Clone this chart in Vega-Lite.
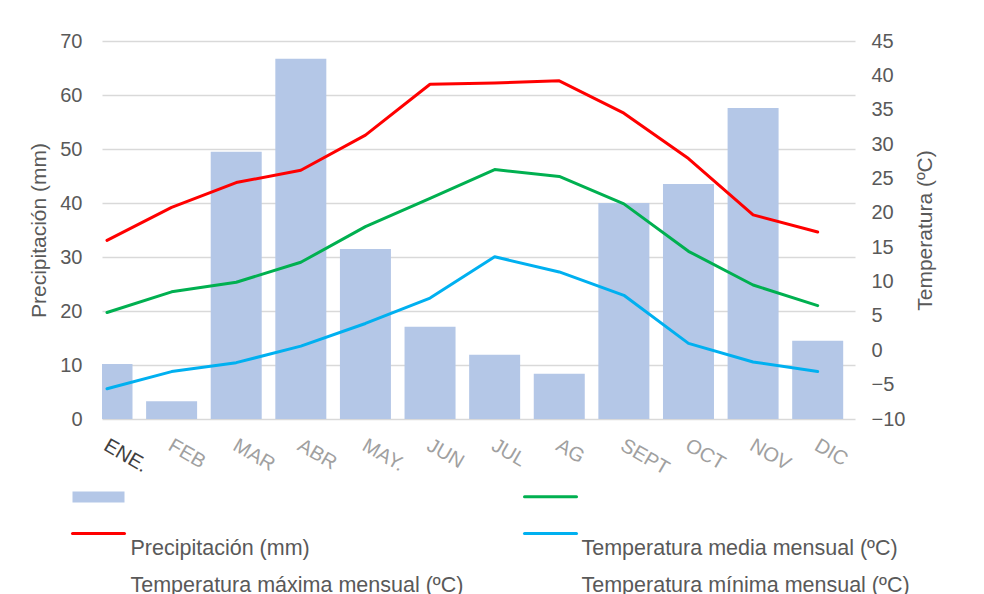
{
  "$schema": "https://vega.github.io/schema/vega-lite/v6.json",
  "width": 753,
  "height": 378,
  "autosize": {"type": "none"},
  "padding": {"left": 102, "top": 41, "right": 129, "bottom": 175},
  "config": {
    "font": "Liberation Sans",
    "view": {"stroke": null},
    "axis": {"labelColor": "#595959", "titleColor": "#595959", "titleFontWeight": "normal", "labelFontSize": 20, "titleFontSize": 21}
  },
  "data": {
    "values": [
      {"n": 1, "mes": "ENE.", "serie": "Precipitación (mm)", "valor": 10.2},
      {"n": 2, "mes": "FEB", "serie": "Precipitación (mm)", "valor": 3.3},
      {"n": 3, "mes": "MAR", "serie": "Precipitación (mm)", "valor": 49.5},
      {"n": 4, "mes": "ABR", "serie": "Precipitación (mm)", "valor": 66.7},
      {"n": 5, "mes": "MAY.", "serie": "Precipitación (mm)", "valor": 31.5},
      {"n": 6, "mes": "JUN", "serie": "Precipitación (mm)", "valor": 17.1},
      {"n": 7, "mes": "JUL", "serie": "Precipitación (mm)", "valor": 11.9},
      {"n": 8, "mes": "AG", "serie": "Precipitación (mm)", "valor": 8.4},
      {"n": 9, "mes": "SEPT", "serie": "Precipitación (mm)", "valor": 40.0},
      {"n": 10, "mes": "OCT", "serie": "Precipitación (mm)", "valor": 43.5},
      {"n": 11, "mes": "NOV", "serie": "Precipitación (mm)", "valor": 57.6},
      {"n": 12, "mes": "DIC", "serie": "Precipitación (mm)", "valor": 14.5},
      {"n": 1, "mes": "ENE.", "serie": "Temperatura media mensual (ºC)", "valor": 5.5},
      {"n": 2, "mes": "FEB", "serie": "Temperatura media mensual (ºC)", "valor": 8.5},
      {"n": 3, "mes": "MAR", "serie": "Temperatura media mensual (ºC)", "valor": 9.9},
      {"n": 4, "mes": "ABR", "serie": "Temperatura media mensual (ºC)", "valor": 12.8},
      {"n": 5, "mes": "MAY.", "serie": "Temperatura media mensual (ºC)", "valor": 18.0},
      {"n": 6, "mes": "JUN", "serie": "Temperatura media mensual (ºC)", "valor": 22.1},
      {"n": 7, "mes": "JUL", "serie": "Temperatura media mensual (ºC)", "valor": 26.3},
      {"n": 8, "mes": "AG", "serie": "Temperatura media mensual (ºC)", "valor": 25.3},
      {"n": 9, "mes": "SEPT", "serie": "Temperatura media mensual (ºC)", "valor": 21.3},
      {"n": 10, "mes": "OCT", "serie": "Temperatura media mensual (ºC)", "valor": 14.4},
      {"n": 11, "mes": "NOV", "serie": "Temperatura media mensual (ºC)", "valor": 9.5},
      {"n": 12, "mes": "DIC", "serie": "Temperatura media mensual (ºC)", "valor": 6.5},
      {"n": 1, "mes": "ENE.", "serie": "Temperatura máxima mensual (ºC)", "valor": 16.0},
      {"n": 2, "mes": "FEB", "serie": "Temperatura máxima mensual (ºC)", "valor": 20.8},
      {"n": 3, "mes": "MAR", "serie": "Temperatura máxima mensual (ºC)", "valor": 24.4},
      {"n": 4, "mes": "ABR", "serie": "Temperatura máxima mensual (ºC)", "valor": 26.2},
      {"n": 5, "mes": "MAY.", "serie": "Temperatura máxima mensual (ºC)", "valor": 31.3},
      {"n": 6, "mes": "JUN", "serie": "Temperatura máxima mensual (ºC)", "valor": 38.7},
      {"n": 7, "mes": "JUL", "serie": "Temperatura máxima mensual (ºC)", "valor": 38.9},
      {"n": 8, "mes": "AG", "serie": "Temperatura máxima mensual (ºC)", "valor": 39.2},
      {"n": 9, "mes": "SEPT", "serie": "Temperatura máxima mensual (ºC)", "valor": 34.5},
      {"n": 10, "mes": "OCT", "serie": "Temperatura máxima mensual (ºC)", "valor": 27.9},
      {"n": 11, "mes": "NOV", "serie": "Temperatura máxima mensual (ºC)", "valor": 19.7},
      {"n": 12, "mes": "DIC", "serie": "Temperatura máxima mensual (ºC)", "valor": 17.2},
      {"n": 1, "mes": "ENE.", "serie": "Temperatura mínima mensual (ºC)", "valor": -5.6},
      {"n": 2, "mes": "FEB", "serie": "Temperatura mínima mensual (ºC)", "valor": -3.1},
      {"n": 3, "mes": "MAR", "serie": "Temperatura mínima mensual (ºC)", "valor": -1.8},
      {"n": 4, "mes": "ABR", "serie": "Temperatura mínima mensual (ºC)", "valor": 0.6},
      {"n": 5, "mes": "MAY.", "serie": "Temperatura mínima mensual (ºC)", "valor": 3.9},
      {"n": 6, "mes": "JUN", "serie": "Temperatura mínima mensual (ºC)", "valor": 7.6},
      {"n": 7, "mes": "JUL", "serie": "Temperatura mínima mensual (ºC)", "valor": 13.6},
      {"n": 8, "mes": "AG", "serie": "Temperatura mínima mensual (ºC)", "valor": 11.4},
      {"n": 9, "mes": "SEPT", "serie": "Temperatura mínima mensual (ºC)", "valor": 8.0},
      {"n": 10, "mes": "OCT", "serie": "Temperatura mínima mensual (ºC)", "valor": 1.0},
      {"n": 11, "mes": "NOV", "serie": "Temperatura mínima mensual (ºC)", "valor": -1.7},
      {"n": 12, "mes": "DIC", "serie": "Temperatura mínima mensual (ºC)", "valor": -3.1}
    ]
  },
  "encoding": {
    "x": {
      "field": "n",
      "type": "quantitative",
      "scale": {"domain": [1, 12.5], "nice": false, "zero": false},
      "axis": {
        "title": null,
        "values": [1, 2, 3, 4, 5, 6, 7, 8, 9, 10, 11, 12],
        "labelExpr": "['', 'ENE.', 'FEB', 'MAR', 'ABR', 'MAY.', 'JUN', 'JUL', 'AG', 'SEPT', 'OCT', 'NOV', 'DIC'][datum.value]",
        "domain": false,
        "ticks": false,
        "grid": false,
        "labelFlush": false,
        "labelOverlap": false,
        "labelAngle": 30,
        "labelAlign": "left",
        "labelBaseline": "top",
        "labelPadding": 16,
        "labelOffset": 3,
        "labelColor": {"condition": {"test": "datum.value === 1", "value": "#404040"}, "value": "#a0a0a0"}
      }
    },
    "color": {
      "field": "serie",
      "type": "nominal",
      "scale": {
        "domain": ["Precipitación (mm)", "Temperatura media mensual (ºC)", "Temperatura máxima mensual (ºC)", "Temperatura mínima mensual (ºC)"],
        "range": ["#b4c7e7", "#00b050", "#ff0000", "#00b0f0"]
      },
      "legend": {
        "title": null,
        "orient": "none",
        "direction": "horizontal",
        "legendX": -5,
        "legendY": 454,
        "columns": 2,
        "padding": 0,
        "columnPadding": 387,
        "rowPadding": 24,
        "labelFontSize": 1,
        "labelExpr": "''",
        "labelOffset": 0,
        "symbolSize": 2704,
        "symbolStrokeWidth": 3,
        "encode": {
          "symbols": {
            "update": {
              "shape": {"signal": "datum.value === 'Precipitación (mm)' ? 'M-1,-0.21H1V0.21H-1Z' : 'stroke'"},
              "fill": {"signal": "datum.value === 'Precipitación (mm)' ? '#b4c7e7' : 'transparent'"},
              "stroke": {"signal": "datum.value === 'Precipitación (mm)' ? 'transparent' : scale('color', datum.value)"},
              "strokeWidth": {"signal": "datum.value === 'Precipitación (mm)' ? 0 : 3"},
              "strokeCap": {"value": "round"},
              "opacity": {"value": 1}
            }
          }
        }
      }
    },
    "opacity": {
      "field": "serie",
      "type": "nominal",
      "scale": {"range": [1, 1, 1, 1]},
      "legend": {
        "title": null,
        "orient": "none",
        "direction": "horizontal",
        "legendX": 3,
        "legendY": 497,
        "columns": 2,
        "padding": 0,
        "columnPadding": 92,
        "rowPadding": 14,
        "labelFontSize": 21.5,
        "labelColor": "#595959",
        "labelLimit": 0,
        "labelOffset": 4,
        "symbolSize": 0,
        "symbolStrokeWidth": 0,
        "symbolOpacity": 0,
        "encode": {
          "symbols": {"update": {"opacity": {"value": 0}}}
        }
      }
    }
  },
  "layer": [
    {
      "transform": [{"filter": "datum.serie === 'Precipitación (mm)'"}],
      "mark": {"type": "bar", "width": 51, "clip": true},
      "encoding": {
        "y": {
          "field": "valor",
          "type": "quantitative",
          "scale": {"domain": [0, 70], "nice": false},
          "axis": {
            "title": "Precipitación (mm)",
            "orient": "left",
            "values": [0, 10, 20, 30, 40, 50, 60, 70],
            "domain": false,
            "ticks": false,
            "grid": true,
            "gridColor": "#d9d9d9",
            "gridWidth": 1.3,
            "labelPadding": 20,
            "titlePadding": 10
          }
        }
      }
    },
    {
      "transform": [{"filter": "datum.serie !== 'Precipitación (mm)'"}],
      "mark": {"type": "line", "strokeWidth": 3, "strokeCap": "round", "strokeJoin": "round"},
      "encoding": {
        "y": {
          "field": "valor",
          "type": "quantitative",
          "scale": {"domain": [-10, 45], "nice": false},
          "axis": {
            "title": "Temperatura (ºC)",
            "orient": "right",
            "values": [-10, -5, 0, 5, 10, 15, 20, 25, 30, 35, 40, 45],
            "domain": false,
            "ticks": false,
            "grid": false,
            "labelPadding": 16,
            "titleAngle": -90,
            "titleBaseline": "top",
            "titlePadding": 10
          }
        }
      }
    }
  ],
  "resolve": {"scale": {"y": "independent"}}
}
